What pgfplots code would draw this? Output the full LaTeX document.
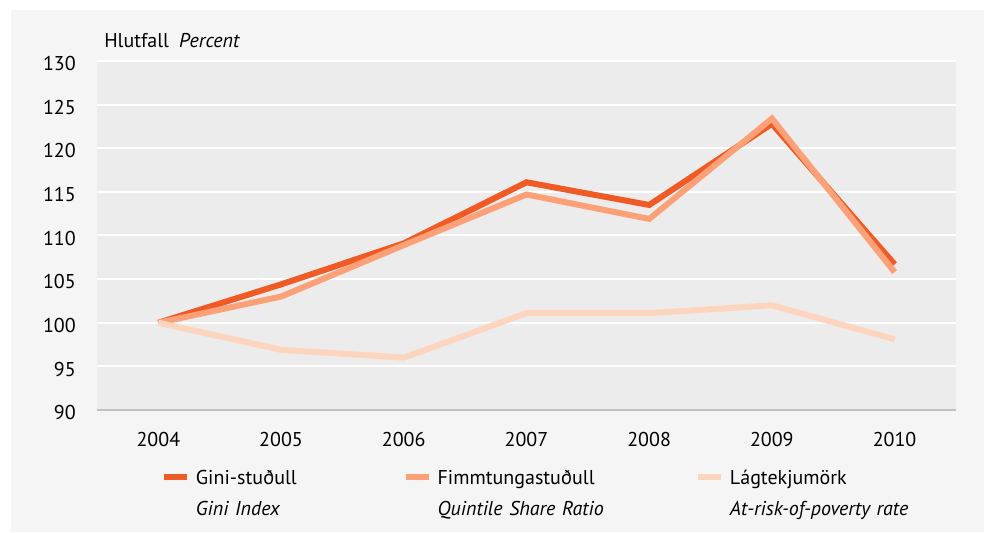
\documentclass[border=0pt]{standalone}
\usepackage{fontspec}
\setmainfont{PT Sans}
\usepackage{pgfplots}
\pgfplotsset{compat=1.18}
\definecolor{gini}{HTML}{F05A24}
\definecolor{quint}{HTML}{FCA078}
\definecolor{risk}{HTML}{FDD5BE}
\definecolor{panel}{HTML}{F5F5F5}
\definecolor{plotbg}{HTML}{EBECEB}
\definecolor{axisgray}{HTML}{BFC0C2}
\begin{document}
\begin{tikzpicture}
\path[use as bounding box] (0,0) rectangle (738pt,399pt);
\fill[white] (0,0) rectangle (738pt,399pt);
\fill[panel] (8.25pt,0) rectangle (738pt,391.5pt);
\begin{axis}[
  at={(72.75pt,91.5pt)}, anchor=south west,
  scale only axis, width=644.25pt, height=261.75pt,
  xmin=2003.5, xmax=2010.5, ymin=90, ymax=130,
  xtick={2004,...,2010}, ytick={90,95,...,130},
  xticklabel={\pgfmathprintnumber[1000 sep={},assume math mode=true]{\tick}},
  /pgf/number format/assume math mode=true,
  major tick length=0pt,
  axis line style={draw=none},
  axis background/.style={fill=plotbg},
  ymajorgrids, grid style={white, line width=1.5pt},
  tick label style={font=\fontsize{15}{18}\selectfont, inner sep=0pt},
  xticklabel style={anchor=base, yshift=-27.5pt},
  yticklabel style={anchor=base east, xshift=-15.75pt, yshift=-7.3pt},
  clip=false,
  legend columns=3,
  legend cell align=left,
  legend style={draw=none, fill=none, inner sep=0pt, outer sep=0pt,
    at={(axis description cs:0.0745,-0.172)}, anchor=north west,
    font=\fontsize{15}{23.25}\selectfont,
    nodes={inner sep=0pt, align=left},
    /tikz/every odd column/.style={column sep=4.5pt},
    /tikz/every even column/.style={column sep=0pt}},
  legend image code/.code={\draw[#1, line width=4.5pt, line cap=butt] (0pt,1.1pt) -- (17.25pt,1.1pt);},
]
\draw[axisgray, line width=1.5pt] (rel axis cs:0,0) -- (rel axis cs:1,0);
\addplot[gini, line width=4.5pt, line join=miter] coordinates {
  (2004,100) (2005,104.4) (2006,109.1) (2007,116.1) (2008,113.5) (2009,122.8) (2010,106.7)};
\addlegendentry[text width=155pt]{Gini-stuðull\\\textit{Gini Index}}
\addplot[quint, line width=4.5pt, line join=miter] coordinates {
  (2004,100) (2005,103.0) (2006,108.9) (2007,114.7) (2008,111.9) (2009,123.4) (2010,105.8)};
\addlegendentry[text width=193pt]{Fimmtungastuðull\\\textit{Quintile Share Ratio}}
\addplot[risk, line width=4.5pt, line join=miter] coordinates {
  (2004,100) (2005,96.9) (2006,96.0) (2007,101.1) (2008,101.1) (2009,102.0) (2010,98.1)};
\addlegendentry[text width=150pt]{Lágtekjumörk\\\textit{At-risk-of-poverty rate}}
\node[anchor=base west, inner sep=0pt, font=\fontsize{15}{18}\selectfont] at (axis description cs:0.00815,1.0393) {Hlutfall\enspace\textit{Percent}};
\end{axis}
\end{tikzpicture}
\end{document}
